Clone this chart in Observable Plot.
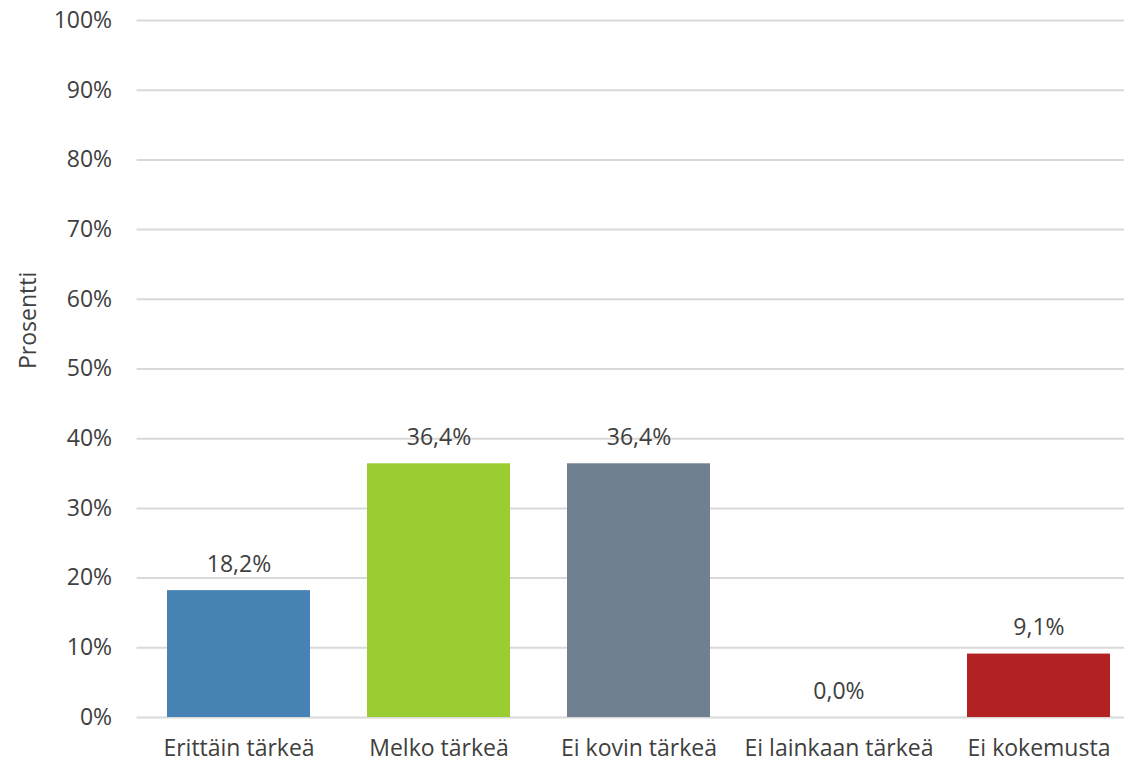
<!DOCTYPE html>
<html>
<head>
<meta charset="utf-8">
<script src="https://cdn.jsdelivr.net/npm/d3@7"></script>
<script src="https://cdn.jsdelivr.net/npm/@observablehq/plot@0.6"></script>
<style>
  html, body { margin: 0; padding: 0; background: #fff; overflow: hidden; }
  #chart svg { display: block; }
</style>
</head>
<body>
<div id="chart"></div>
<script>
const categories = ["Erittäin tärkeä", "Melko tärkeä", "Ei kovin tärkeä", "Ei lainkaan tärkeä", "Ei kokemusta"];
const values = [18.2, 36.4, 36.4, 0.0, 9.1];
const colors = ["#4682B4", "#9ACD32", "#708090", "#FFFFFF", "#B22222"];
const yTicks = [0, 10, 20, 30, 40, 50, 60, 70, 80, 90, 100];
const yLabel = "Prosentti";

const data = categories.map((c, i) => ({category: c, value: values[i], color: colors[i]}));
const fmt = v => v.toFixed(1).replace(".", ",") + "%";
const font = "'Open Sans', sans-serif";
const fs = 23;

const chart = Plot.plot({
  width: 1124,
  height: 767,
  marginLeft: 136.6,
  marginRight: -16,
  marginTop: 20,
  marginBottom: 50,
  style: {fontFamily: font, fontSize: fs + "px", color: "#404040", background: "#fff", overflow: "visible"},
  x: {domain: categories, paddingInner: 0.283, paddingOuter: 0.1415, label: null},
  y: {domain: [0, 100], label: null},
  marks: [
    Plot.ruleY(yTicks, {stroke: "#d9d9d9", strokeWidth: 2}),
    Plot.barY(data, {x: "category", y: "value", fill: "color"}),
    Plot.text(data, {x: "category", y: "value", text: d => fmt(d.value), dy: -26, fill: "#404040", fontSize: fs, fontFamily: font}),
    Plot.axisY({ticks: yTicks, tickFormat: d => d + "%", tickSize: 0, tickPadding: 25, fontSize: fs, fontFamily: font, fill: "#404040", label: null}),
    Plot.axisX({tickSize: 0, tickPadding: 22, fontSize: fs, fontFamily: font, fill: "#404040", label: null}),
    Plot.text([yLabel], {frameAnchor: "left", dx: -108, rotate: -90, fontSize: fs, fontFamily: font, fill: "#404040"})
  ]
});
document.getElementById("chart").appendChild(chart);
</script>
</body>
</html>
